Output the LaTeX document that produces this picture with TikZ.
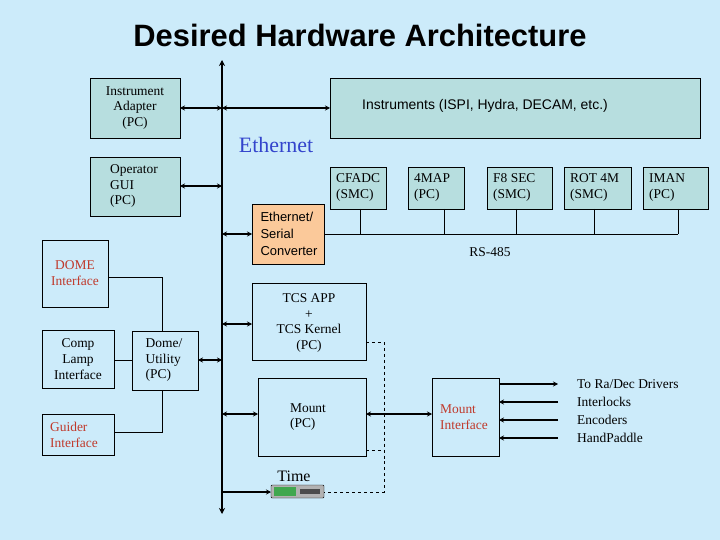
\documentclass[tikz,border=0pt]{standalone}
\usepackage{fontspec}
\setmainfont{Liberation Serif}
\newfontfamily\sansf{Liberation Sans}
\usetikzlibrary{arrows.meta}
\definecolor{bg}{HTML}{CCEBFA}
\definecolor{teal}{HTML}{B7DEDF}
\definecolor{orng}{HTML}{FBC99A}
\definecolor{redt}{HTML}{C0392B}
\definecolor{blu}{HTML}{3344CC}
\begin{document}
\begin{tikzpicture}[x=1bp,y=-1bp,
  box/.style={draw, line width=0.6pt, inner sep=0pt},
  tbox/.style={box, fill=teal},
  txt/.style={font=\fontsize{13.5}{16}\selectfont, align=center, inner sep=0pt},
  bus/.style={line width=2pt},
  dbl/.style={line width=1.8pt, {Stealth[length=5pt,width=5pt]}-{Stealth[length=5pt,width=5pt]}},
  one/.style={line width=1.8pt, -{Stealth[length=5pt,width=5pt]}},
  thin/.style={line width=0.6pt},
  dsh/.style={line width=0.6pt, dashed}]
\fill[bg] (0,0) rectangle (720,540);
\useasboundingbox (0,0) rectangle (720,540);
\node[font=\sansf\bfseries\fontsize{31}{33}\selectfont] (title) at (360,35) {Desired Hardware Architecture};
% bus
\coordinate (bt) at (222,60); \coordinate (bb) at (222,514);
\draw[bus, {Stealth[length=6pt,width=6pt]}-{Stealth[length=6pt,width=6pt]}] (bt) -- (bb);
\node[font=\fontsize{22}{24}\selectfont, text=blu] (eth) at (276,145) {Ethernet};
% left boxes
\draw[tbox] (90,78) rectangle (180,138); \node[txt] (ia) at (135,108) {Instrument\\Adapter\\(PC)};
\draw[tbox] (90,157) rectangle (180,216); \node[txt, align=left] (og) at (134,186) {Operator\\GUI\\(PC)};
\draw[tbox] (330,78) rectangle (700,138); \node[txt, font=\sansf\fontsize{14}{16}\selectfont] (ins) at (485,106) {Instruments (ISPI, Hydra, DECAM, etc.)};
\coordinate (iaR) at (180,108); \coordinate (b1) at (222,108); \coordinate (insL) at (330,108);
\draw[dbl] (iaR) -- (b1); \draw[dbl] (b1) -- (insL);
\coordinate (ogR) at (180,186); \coordinate (b2) at (222,186);
\draw[dbl] (ogR) -- (b2);
% converter
\draw[box, fill=orng] (252,204) rectangle (324,264);
\node[txt, align=left, font=\sansf\fontsize{13}{17}\selectfont] (conv) at (289,234) {Ethernet/\\Serial\\Converter};
\coordinate (b3) at (222,234); \coordinate (cvL) at (252,234); \coordinate (cvR) at (324,234);
\draw[dbl] (b3) -- (cvL);
% small boxes
\foreach \n/\a/\b/\t in {cf/330/386/{CFADC\\(SMC)}, mp/408/464/{4MAP\\(PC)}, f8/487/552/{F8 SEC\\(SMC)}, rt/564/631/{ROT 4M\\(SMC)}, im/643/708/{IMAN\\(PC)}}{
  \draw[black!60, line width=1.5pt] (\a+1,209) -- (\b,209) -- (\b,168);
  \draw[tbox] (\a,167) rectangle (\b,209);
  \node[txt, align=left, anchor=north west] (\n) at (\a+6,173) {\t};
}
\coordinate (rsE) at (678,234);
\draw[thin] (cvR) -- (rsE);
\foreach \x in {360,444,516,594,678} \draw[thin] (\x,209) -- (\x,234);
\node[txt] (rs) at (490,252) {RS-485};
% dome cluster
\draw[box] (42,240) rectangle (108,307); \node[txt, text=redt] (dome) at (75,273) {DOME\\Interface};
\draw[box] (42,330) rectangle (114,388); \node[txt] (cl) at (78,359) {Comp\\Lamp\\Interface};
\draw[box] (132,331) rectangle (198,390); \node[txt, align=left] (du) at (164,360) {Dome/\\Utility\\(PC)};
\draw[box] (42,414) rectangle (114,455); \node[txt, align=left, text=redt] (gi) at (74,435) {Guider\\Interface};
\draw[thin] (108,277) -- (162,277) -- (162,331);
\draw[thin] (162,390) -- (162,432) -- (114,432);
\draw[thin] (114,360) -- (132,360);
\coordinate (duR) at (198,360); \coordinate (b4) at (222,360);
\draw[dbl] (duR) -- (b4);
% TCS
\draw[box] (252,283) rectangle (366,360); \node[txt] (tcs) at (309,323) {TCS APP\\+\\TCS Kernel\\(PC)};
\coordinate (b5) at (222,324); \coordinate (tcsL) at (252,324);
\draw[dbl] (b5) -- (tcsL);
\draw[box] (258,378) rectangle (366,456); \node[txt, align=left] (mpc) at (308,417) {Mount\\(PC)};
\coordinate (b6) at (222,414); \coordinate (mpL) at (258,414); \coordinate (mpR) at (366,414);
\draw[dbl] (b6) -- (mpL);
\draw[box] (432,378) rectangle (499,456); \node[txt, align=left, text=redt] (mi) at (464,417) {Mount\\Interface};
\coordinate (miL) at (432,414);
\draw[dbl] (mpR) -- (miL);
% time
\node[txt, font=\fontsize{16}{18}\selectfont] (time) at (294,476) {Time};
\draw[fill=gray!60, rounded corners=1pt] (271,485) rectangle (324,498);
\fill[teal!50!green!70!black] (274,487) rectangle (296,496);
\fill[black!70] (300,489) rectangle (320,494);
\coordinate (tmL) at (271,492); \coordinate (tmR) at (324,492); \coordinate (b7) at (222,492);
\draw[one] (b7) -- (tmL);
\draw[dsh] (366,342) -- (384,342) -- (384,492) -- (tmR);
\draw[dsh] (366,450) -- (384,450);
% right arrows
\draw[one] (499,384) -- (558,384);
\foreach \y in {402,420,438} \draw[one] (558,\y) -- (499,\y);
\node[txt, anchor=west] (ra) at (577,384) {To Ra/Dec Drivers};
\node[txt, anchor=west] (il) at (577,402) {Interlocks};
\node[txt, anchor=west] (en) at (577,420) {Encoders};
\node[txt, anchor=west] (hp) at (577,438) {HandPaddle};
\end{tikzpicture}
\end{document}
